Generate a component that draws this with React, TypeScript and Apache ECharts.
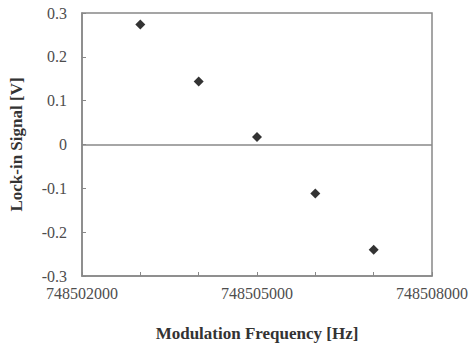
import React, { useEffect, useRef } from "react";
import * as echarts from "echarts";

const frequencies = [748503000, 748504000, 748505000, 748506000, 748507000];
const signals = [0.274, 0.144, 0.017, -0.112, -0.24];

export default function App() {
  const ref = useRef<HTMLDivElement>(null);
  useEffect(() => {
    if (!ref.current) return;
    const chart = echarts.init(ref.current, null, { renderer: "svg" });
    const font = "Liberation Serif";
    chart.setOption({
      animation: false,
      backgroundColor: "#ffffff",
      grid: {
        left: 80,
        right: 43,
        top: 13,
        bottom: 70,
        show: true,
        borderColor: "#888888",
        borderWidth: 1.5,
        backgroundColor: "transparent",
      },
      xAxis: {
        type: "value",
        min: 748502000,
        max: 748508000,
        interval: 1000,
        name: "Modulation Frequency [Hz]",
        nameLocation: "middle",
        nameGap: 49,
        nameTextStyle: { fontFamily: font, fontWeight: "bold", fontSize: 17, color: "#333333" },
        axisLine: { onZero: false, lineStyle: { color: "#888888", width: 1.5 } },
        axisTick: { inside: true, length: 4, lineStyle: { color: "#888888" } },
        axisLabel: {
          interval: 2,
          margin: 9,
          fontFamily: font,
          fontSize: 16,
          lineHeight: 16,
          color: "#4d4d4d",
          formatter: (v: number) => (Math.round(v - 748502000) % 3000 === 0 ? String(v) : ""),
        },
        splitLine: { show: false },
      },
      yAxis: {
        type: "value",
        min: -0.3,
        max: 0.3,
        interval: 0.1,
        name: "Lock-in Signal [V]",
        nameLocation: "middle",
        nameGap: 57,
        nameTextStyle: { fontFamily: font, fontWeight: "bold", fontSize: 17, color: "#333333" },
        axisLine: { show: true, lineStyle: { color: "#888888", width: 1.5 } },
        axisTick: { inside: true, length: 4, lineStyle: { color: "#888888" } },
        axisLabel: {
          margin: 15,
          fontFamily: font,
          fontSize: 16,
          lineHeight: 14,
          color: "#4d4d4d",
          formatter: (v: number) => {
            const r = Math.round(v * 10) / 10;
            return r === 0 ? "0" : String(r);
          },
        },
        splitLine: { show: false },
      },
      series: [
        {
          type: "scatter",
          data: frequencies.map((f, i) => [f, signals[i]]),
          symbol: "diamond",
          symbolSize: 10,
          itemStyle: { color: "#000000" },
          markLine: {
            silent: true,
            symbol: "none",
            label: { show: false },
            lineStyle: { color: "#888888", width: 1.5, type: "solid" },
            data: [{ yAxis: 0 }],
          },
        },
      ],
    });
    return () => chart.dispose();
  }, []);
  return (
    <div
      ref={ref}
      style={{ position: "fixed", left: 0, top: 0, width: 475, height: 347 }}
    />
  );
}
